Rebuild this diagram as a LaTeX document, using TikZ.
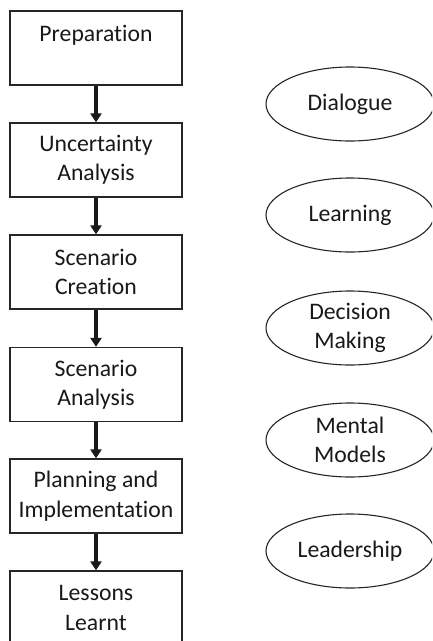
\documentclass[tikz,border=0pt]{standalone}
\usepackage{fontspec}
\setmainfont{Carlito}[Ligatures=NoCommon]
\usetikzlibrary{shapes.geometric,arrows.meta}
\begin{document}
\begin{tikzpicture}[x=1pt,y=-1pt,
  every node/.style={font=\fontsize{23.7}{29.5}\selectfont, text=black!90, align=center, inner sep=0pt},
  stepbox/.style={draw=black!85, line width=1.3pt, minimum width=172pt, minimum height=74pt},
  theme/.style={ellipse, draw=black!85, line width=1.1pt, minimum width=168pt, minimum height=74pt},
  flow/.style={draw=black!90, line width=3.2pt, -{Triangle[length=9pt,width=11pt]}}]
\useasboundingbox (0,0) rectangle (432,641);
\fill[white] (0,0) rectangle (432,641);
\begin{scope}
\clip (0,0) rectangle (432,641);
% process steps
\node[stepbox] (prep) at (96,48)  {Preparation\\~};
\node[stepbox] (unc)  at (96,160) {Uncertainty\\Analysis};
\node[stepbox] (sc)   at (96,272) {Scenario\\Creation};
\node[stepbox] (sa)   at (96,384.5) {Scenario\\Analysis};
\node[stepbox] (pi)   at (96,496) {Planning and\\Implementation};
\node[stepbox] (ll)   at (96,608) {Lessons\\Learnt};
% connectors
\draw[flow] (prep.south) -- (unc.north);
\draw[flow] (unc.south) -- (sc.north);
\draw[flow] (sc.south) -- (sa.north);
\draw[flow] (sa.south) -- (pi.north);
\draw[flow] (pi.south) -- (ll.north);
% outcomes
\node[theme] (dia)  at (350,104) {Dialogue};
\node[theme] (lea)  at (350,215) {Learning};
\node[theme] (dec)  at (350,328) {Decision\\Making};
\node[theme] (men)  at (350,440) {Mental\\Models};
\node[theme] (lead) at (350,551) {Leadership};
\end{scope}
\end{tikzpicture}
\end{document}
